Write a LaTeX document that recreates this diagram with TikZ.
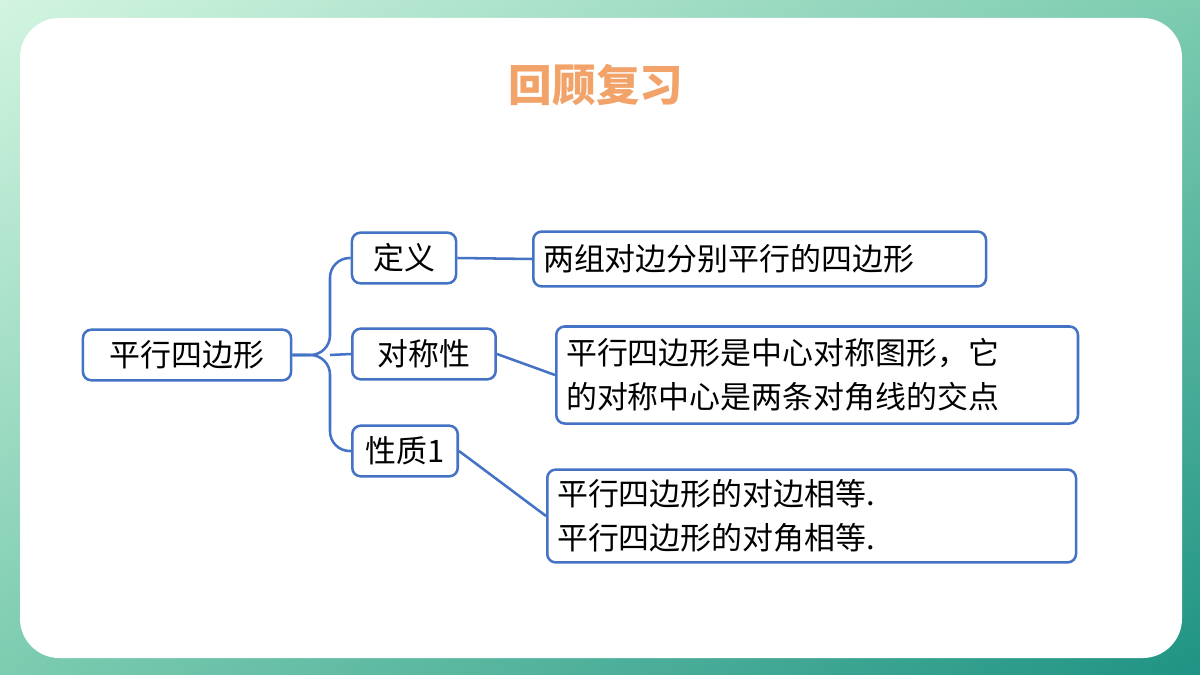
\documentclass[tikz,border=0pt]{standalone}
\usepackage{fontspec}
\newfontfamily\cjk{Noto Sans CJK SC}
\usetikzlibrary{positioning,shadings}
\definecolor{mapblue}{HTML}{4472C4}
\definecolor{titleorange}{HTML}{F2A36A}
\definecolor{bgA}{HTML}{D2F4E0}
\definecolor{bgM}{HTML}{7CCCB0}
\definecolor{bgB}{HTML}{1F9384}
\tikzset{
  topic/.style={draw=mapblue,line width=1.8pt,rounded corners=6pt,fill=white,
    font=\cjk\fontsize{22}{28}\selectfont,inner sep=0pt,anchor=center},
  detail/.style={topic,anchor=west,align=left,inner xsep=7pt,
    font=\cjk\fontsize{22}{31}\selectfont},
  link/.style={draw=mapblue,line width=1.8pt}
}
\begin{document}
\begin{tikzpicture}[x=0.025cm,y=-0.025cm]
\useasboundingbox (0,0) rectangle (1200,675);
\shade[upper left=bgA,upper right=bgM,lower left=bgM,lower right=bgB] (0,0) rectangle (1200,675);
\fill[white,rounded corners=28pt] (20,18) rectangle (1182,658);
\node[text=titleorange,font=\cjk\bfseries\fontsize{31}{36}\selectfont] (title) at (596,85) {回顾复习};
% left column
\node[topic,minimum width=148pt,minimum height=36pt] (root) at (187,355) {平行四边形};
\node[topic,minimum width=74pt,minimum height=36pt] (def) at (404,258) {定义};
\node[topic,minimum width=102pt,minimum height=36pt] (sym) at (424,354) {对称性};
\node[topic,minimum width=75pt,minimum height=36pt] (prop) at (405,451) {性质1};
% details
\node[detail,minimum width=322pt,minimum height=39pt,text width=308pt] (defd) at (532,259) {两组对边分别平行的四边形};
\node[detail,minimum width=371pt,minimum height=69pt,text width=357pt] (symd) at (555,375) {平行四边形是中心对称图形，它\\的对称中心是两条对角线的交点};
\node[detail,minimum width=376pt,minimum height=66pt,text width=362pt] (propd) at (546,516) {平行四边形的对边相等.\\平行四边形的对角相等.};
% connectors
\coordinate (fork) at (330,355);
\draw[link,rounded corners=14pt] (root.east) -- (fork) |- (def.west);
\draw[link,rounded corners=14pt] (root.east) -- (fork) |- (prop.west);
\draw[link] (fork) -- (sym.west);
\draw[link] (def.east) -- (defd.west);
\draw[link] (sym.east) -- (symd.west);
\draw[link] (prop.east) -- (propd.west);
\end{tikzpicture}
\end{document}
